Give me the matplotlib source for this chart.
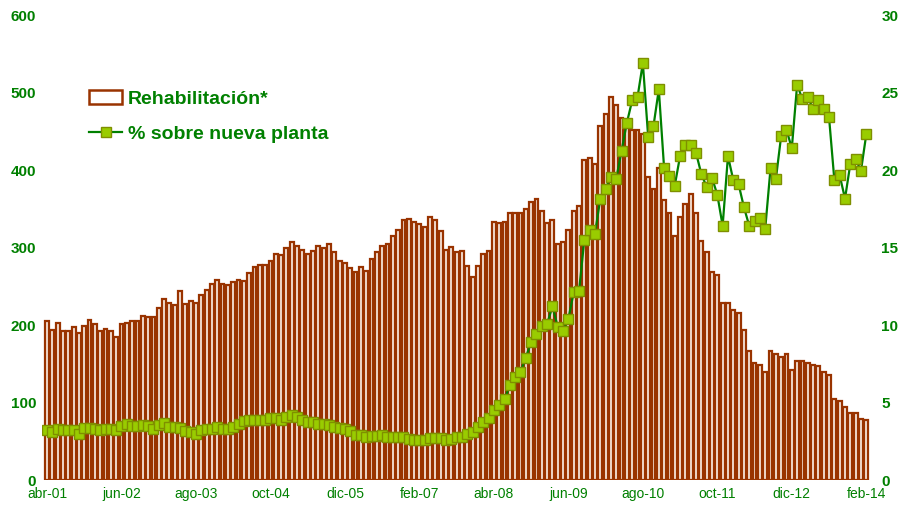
import matplotlib
matplotlib.use('Agg')
import matplotlib.pyplot as plt
from matplotlib.patches import Patch
from matplotlib.lines import Line2D

plt.rcParams['font.family'] = ['Liberation Sans', 'DejaVu Sans']

# monthly data, abr-01 .. feb-14
rehabilitacion = [
    205, 193, 202, 192, 192, 197, 190, 199, 206, 201, 192, 195, 192, 185, 201, 203,
    205, 205, 212, 210, 210, 222, 233, 229, 226, 244, 227, 231, 229, 239, 245, 253,
    258, 253, 251, 255, 258,
    257, 267, 275, 277, 277, 282, 292, 290, 299, 307, 302, 297, 292, 296, 302, 300,
    305, 294, 282, 280, 274, 268, 275, 270, 285, 294, 302, 304, 315, 322, 335, 337,
    333, 330, 326, 340, 336, 321, 297, 301,
    294, 295, 276, 262, 276, 292, 295, 333, 331, 333, 344, 344, 345, 350, 359, 363,
    347, 331, 336, 305, 307, 323, 347, 354, 413, 415, 408, 457, 472, 494, 484, 467,
    461, 452, 452, 446, 391, 375, 402,
    361, 345, 315, 339, 356, 369, 344, 309, 294, 268, 264, 229, 229, 219, 216, 193,
    166, 151, 148, 140, 167, 162, 159, 163, 142, 153, 153, 151, 148, 147, 139, 136,
    105, 102, 94, 86, 87, 79, 77,
]

pct_nueva_planta = [
    3.23, 3.1, 3.3, 3.2, 3.23, 3.23, 3.0, 3.35, 3.37, 3.3, 3.2, 3.3, 3.3, 3.23, 3.48,
    3.6, 3.5, 3.5, 3.52, 3.48, 3.3, 3.52, 3.65, 3.44, 3.4, 3.35, 3.13, 3.1, 2.97, 3.2,
    3.27, 3.3, 3.44, 3.27, 3.29, 3.42, 3.6, 3.79,
    3.87, 3.9, 3.9, 3.87, 3.98, 3.98, 3.9, 4.08, 4.19, 4.05, 3.9, 3.74, 3.74, 3.61,
    3.61, 3.55, 3.44, 3.35, 3.3, 3.18, 2.92, 2.88, 2.8, 2.84, 2.84, 2.88, 2.8, 2.75,
    2.75, 2.75, 2.62, 2.6, 2.6, 2.6, 2.73, 2.7, 2.7, 2.56, 2.62,
    2.75, 2.8, 2.95, 3.1, 3.4, 3.75, 3.98, 4.5, 4.86, 5.2, 6.1, 6.67, 6.97, 7.9, 8.9,
    9.42, 9.94, 10.06, 11.2, 9.9, 9.63, 10.4, 12.1, 12.17, 15.5, 16.1, 15.9, 18.15,
    18.8, 19.57, 19.44, 21.25, 23.05, 24.5, 24.7, 26.9, 22.15, 22.84, 25.2,
    20.1, 19.6, 19.0, 20.9, 21.6, 21.6, 21.1, 19.74, 18.9, 19.5, 18.4, 16.4, 20.9,
    19.35, 19.08, 17.6, 16.4, 16.7, 16.9, 16.2, 20.1, 19.4, 22.2, 22.6, 21.4, 25.5,
    24.56, 24.7, 23.95, 24.5, 23.95, 23.4, 19.35, 19.66, 18.15, 20.4, 20.7, 19.95, 22.3,
]

tick_labels = ['abr-01', 'jun-02', 'ago-03', 'oct-04', 'dic-05', 'feb-07',
               'abr-08', 'jun-09', 'ago-10', 'oct-11', 'dic-12', 'feb-14']

green = '#008000'
brown = '#993300'

months = list(range(len(rehabilitacion)))

fig = plt.figure(figsize=(9.03, 5.11), dpi=100)
ax1 = fig.add_axes([41.7 / 903, 31 / 511, 829.9 / 903, 465 / 511])
ax2 = ax1.twinx()

ax1.bar(months, rehabilitacion, width=0.72, color='#f7e6dc', edgecolor=brown, linewidth=1.6)
ax2.plot(months, pct_nueva_planta, color=green, linewidth=1.6, marker='s', markersize=7.5,
         markerfacecolor='#99cc00', markeredgecolor='#7f8f00', markeredgewidth=1)

ax1.set_xlim(-1, 155)
ax1.set_ylim(0, 600)
ax2.set_ylim(0, 30)
ax1.set_yticks(range(0, 601, 100))
ax2.set_yticks(range(0, 31, 5))
ax1.set_xticks(months[::14])
ax1.set_xticklabels(tick_labels)

for ax in (ax1, ax2):
    for s in ax.spines.values():
        s.set_visible(False)
ax1.tick_params(axis='x', length=0, pad=5, labelsize=10, labelcolor=green)
ax1.tick_params(axis='y', length=0, pad=4, labelsize=11, labelcolor=green)
ax2.tick_params(axis='y', length=0, pad=7, labelsize=11, labelcolor=green)
for lab in ax1.get_yticklabels() + ax2.get_yticklabels():
    lab.set_fontweight('bold')

handles = [Patch(facecolor='white', edgecolor=brown, linewidth=1.8),
           Line2D([], [], color=green, linewidth=1.6, marker='s', markersize=7.5,
                  markerfacecolor='#99cc00', markeredgecolor='#7f8f00')]
leg = ax2.legend(handles, ['Rehabilitación*', '% sobre nueva planta'],
                 loc='upper left', bbox_to_anchor=(89 / 903, 1 - 90 / 511),
                 bbox_transform=fig.transFigure, frameon=False, borderpad=0,
                 borderaxespad=0, handlelength=1.7, handletextpad=0.3,
                 labelspacing=0.9, prop={'size': 14, 'weight': 'bold'})
for t in leg.get_texts():
    t.set_color(green)

fig.savefig('out.png', dpi=100)
